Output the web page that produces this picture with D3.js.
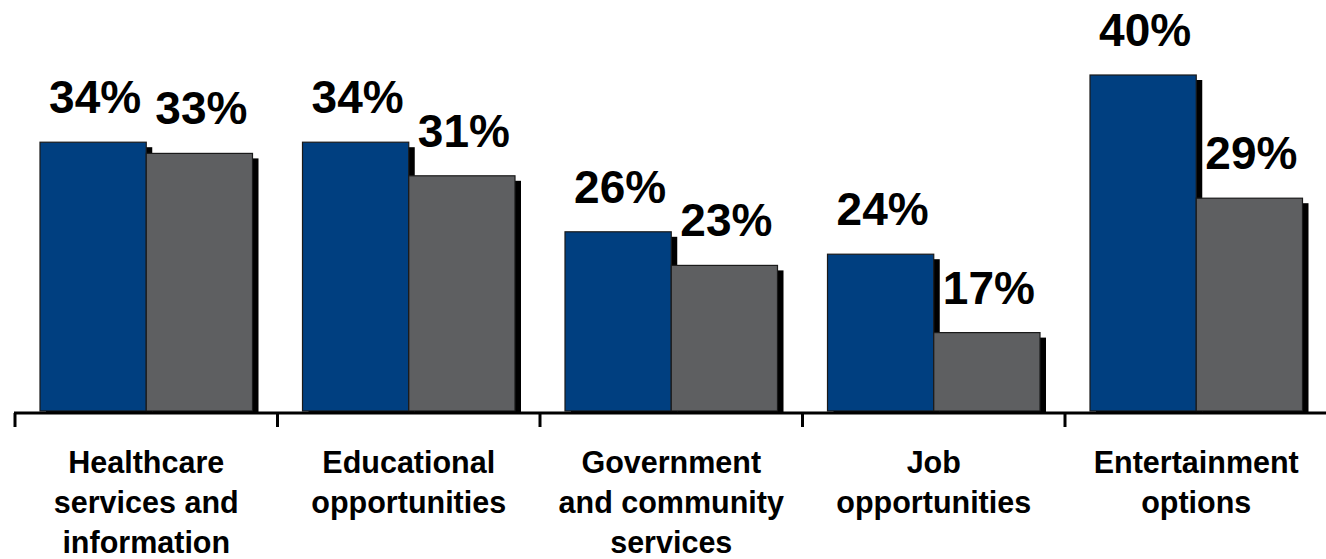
<!DOCTYPE html>
<html>
<head>
<meta charset="utf-8">
<script src="https://cdn.jsdelivr.net/npm/d3@7"></script>
<style>
  html, body { margin: 0; padding: 0; background: #fff; }
  svg { display: block; font-family: "Liberation Sans", Arial, sans-serif; }
</style>
</head>
<body>
<svg id="chart" width="1326" height="559"></svg>
<script>
// Categories (each label split into its display lines)
const categories = [
  ["Healthcare", "services and", "information"],
  ["Educational", "opportunities"],
  ["Government", "and community", "services"],
  ["Job", "opportunities"],
  ["Entertainment", "options"]
];
// Two series, percent values
const seriesA = [34, 34, 26, 24, 40];
const seriesB = [33, 31, 23, 17, 29];
const seriesColors = ["#003f80", "#5e5f61"];

const svg = d3.select("#chart");
const W = 1326;
const baseY = 411;

const x = d3.scaleBand()
  .domain(d3.range(categories.length))
  .range([15, 15 + 262.5 * categories.length])
  .paddingInner(0)
  .paddingOuter(0);

const inner = d3.scaleBand()
  .domain([0, 1])
  .range([25, x.bandwidth() - 25])
  .padding(0);

const y = d3.scaleLinear().domain([10, 40]).range([baseY, 75]);

const rows = categories.map((c, i) => ({ i, vals: [seriesA[i], seriesB[i]] }));

const groups = svg.append("g").selectAll("g.grp")
  .data(rows)
  .join("g")
  .attr("class", "grp")
  .attr("transform", d => `translate(${x(d.i)},0)`);

// drop shadows
groups.selectAll("rect.shadow")
  .data(d => d.vals.map((v, s) => ({ v, s })))
  .join("rect")
  .attr("class", "shadow")
  .attr("x", d => inner(d.s) + 6)
  .attr("y", d => y(d.v) + 5)
  .attr("width", inner.bandwidth())
  .attr("height", d => baseY - y(d.v) - 2)
  .attr("fill", "#000");

// bars
groups.selectAll("rect.bar")
  .data(d => d.vals.map((v, s) => ({ v, s })))
  .join("rect")
  .attr("class", "bar")
  .attr("x", d => inner(d.s))
  .attr("y", d => y(d.v))
  .attr("width", inner.bandwidth())
  .attr("height", d => baseY - y(d.v))
  .attr("fill", d => seriesColors[d.s])
  .attr("stroke", "#1a1a1a")
  .attr("stroke-width", 1.2);

// value labels
groups.selectAll("text.val")
  .data(d => d.vals.map((v, s) => ({ v, s })))
  .join("text")
  .attr("class", "val")
  .attr("x", d => inner(d.s) + inner.bandwidth() / 2 + 2)
  .attr("y", d => y(d.v) - 29)
  .attr("text-anchor", "middle")
  .attr("font-size", 46)
  .attr("font-weight", "bold")
  .attr("fill", "#000")
  .text(d => d.v + "%");

// x axis: baseline and category dividers
const axisG = svg.append("g").attr("transform", `translate(0,${baseY + 2})`);
axisG.append("line")
  .attr("x1", 14).attr("x2", W)
  .attr("y1", 0).attr("y2", 0)
  .attr("stroke", "#000").attr("stroke-width", 3);
const tickXs = d3.range(categories.length).map(i => x(i));
axisG.selectAll("line.tick")
  .data(tickXs)
  .join("line")
  .attr("class", "tick")
  .attr("x1", d => d).attr("x2", d => d)
  .attr("y1", 0).attr("y2", 14)
  .attr("stroke", "#000").attr("stroke-width", 3);

// category labels
const catG = svg.append("g").selectAll("text.cat")
  .data(categories.map((c, i) => ({ c, i })))
  .join("text")
  .attr("class", "cat")
  .attr("x", d => x(d.i) + x.bandwidth() / 2)
  .attr("y", 473)
  .attr("text-anchor", "middle")
  .attr("font-size", 30.5)
  .attr("font-weight", "bold")
  .attr("fill", "#000");
catG.selectAll("tspan")
  .data(d => d.c.map((line, k) => ({ line, k, cx: x(d.i) + x.bandwidth() / 2 })))
  .join("tspan")
  .attr("x", d => d.cx)
  .attr("dy", d => d.k === 0 ? 0 : 40)
  .text(d => d.line);
</script>
</body>
</html>
